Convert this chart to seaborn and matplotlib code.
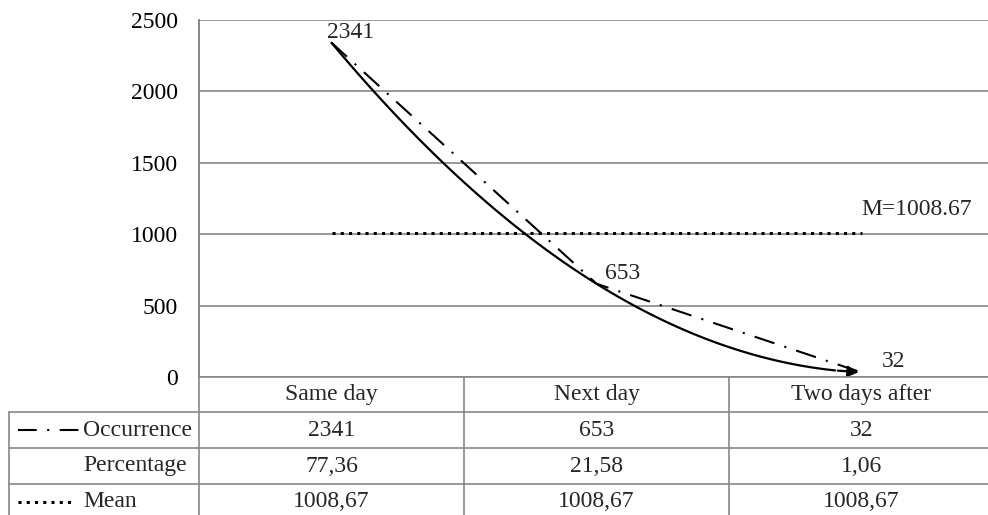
import matplotlib
matplotlib.use("Agg")
import matplotlib.pyplot as plt
from matplotlib.lines import Line2D
import matplotlib.transforms as mtransforms
import numpy as np
import seaborn as sns

# data
categories = ["Same day", "Next day", "Two days after"]
occurrence = [2341, 653, 32]
percentage = [77.36, 21.58, 1.06]
mean_value = 1008.67
row_labels = ["Occurrence", "Percentage", "Mean"]

# figure geometry (pixels)
W, H = 988, 515
left, top, zero_y, col_w = 199, 20, 377, 265
row_edges = [377, 412, 448, 484, 515]
grey = "#878787"
fs = 17
dashdot = (0, (10, 5, 1, 5))
dotted = (0, (1, 1.7))

sns.set_theme(style="white")
plt.rcParams["font.family"] = ["Liberation Serif", "DejaVu Serif"]

fig = plt.figure(figsize=(W / 100, H / 100), dpi=100)
ax = fig.add_axes([left / W, 1 - zero_y / H, 3 * col_w / W, (zero_y - top) / H])

xpos = np.arange(len(categories))

# lines
sns.lineplot(x=xpos, y=occurrence, ax=ax, color="black", lw=1.5, linestyle=dashdot)
sns.lineplot(x=xpos, y=[mean_value] * len(xpos), ax=ax, color="black", lw=2.2,
             linestyle=dotted)

# smooth trend curve with arrow
coef = np.polyfit(xpos, occurrence, 2)
xs = np.linspace(0, 1.9, 120)
ax.plot(xs, np.polyval(coef, xs), color="black", lw=1.6)
ax.annotate("", xy=(2, occurrence[-1]), xytext=(1.9, np.polyval(coef, 1.9)),
            arrowprops=dict(arrowstyle="-|>", color="black", lw=1.6, mutation_scale=16))

# labels
ax.annotate(str(occurrence[0]), (0, occurrence[0]), xytext=(-3, 0), textcoords="offset points",
            ha="left", va="bottom", fontsize=fs)
ax.annotate(str(occurrence[1]), (1, occurrence[1]), xytext=(6, 0), textcoords="offset points",
            ha="left", va="bottom", fontsize=fs)
ax.annotate(str(occurrence[2]), (2, occurrence[2]), xytext=(15, 0), textcoords="offset points",
            ha="left", va="bottom", fontsize=fs)
ax.annotate(f"M={mean_value:.2f}", (2, mean_value), xytext=(0, 9), textcoords="offset points",
            ha="left", va="bottom", fontsize=fs)

# axes styling
ax.set_xlim(-0.5, 2.5)
ax.set_ylim(0, 2500)
ax.set_yticks(np.arange(0, 2501, 500))
ax.set_xticks([])
ax.grid(axis="y", color=grey, lw=1.2)
ax.set_axisbelow(True)
for s in ["right", "bottom", "top"]:
    ax.spines[s].set_visible(False)
ax.spines["left"].set_color(grey)
ax.spines["left"].set_linewidth(1.2)
ax.tick_params(axis="y", length=0, pad=15, labelsize=fs, labelcolor="black")
ax.tick_params(axis="x", length=0)


# data table below the plot
def fx(x):
    return x / W


def fy(y):
    return 1 - y / H


def hline(y, x0, x1):
    fig.add_artist(Line2D([fx(x0), fx(x1)], [fy(y), fy(y)], color=grey, lw=1.2))


def vline(x, y0, y1):
    fig.add_artist(Line2D([fx(x), fx(x)], [fy(y0), fy(y1)], color=grey, lw=1.2))


hline(row_edges[0], left, W)
for y in row_edges[1:4]:
    hline(y, 9, W)
vline(9, row_edges[1], H)
vline(left, top, H)
for i in range(1, 3):
    vline(left + i * col_w, row_edges[0], H)

trans = mtransforms.blended_transform_factory(ax.transData, fig.transFigure)
centers = [(row_edges[i] + row_edges[i + 1]) / 2 for i in range(4)]
centers[3] += 2
for i, c in enumerate(categories):
    ax.text(i, fy(centers[0]), c, transform=trans, ha="center", va="center", fontsize=fs)
cell_rows = [[str(v) for v in occurrence],
             [f"{v:.2f}".replace(".", ",") for v in percentage],
             [f"{mean_value:.2f}".replace(".", ",")] * 3]
for r, vals in enumerate(cell_rows):
    yc = fy(centers[r + 1])
    for i, v in enumerate(vals):
        ax.text(i, yc, v, transform=trans, ha="center", va="center", fontsize=fs)
    fig.text(fx(83), yc, row_labels[r], ha="left", va="center", fontsize=fs)

# legend keys in the table
fig.add_artist(Line2D([fx(18), fx(79)], [fy(centers[1])] * 2, color="black", lw=1.5,
                      linestyle=(0, (9, 5, 1, 5))))
fig.add_artist(Line2D([fx(18), fx(72)], [fy(centers[3])] * 2, color="black", lw=2.2,
                      linestyle=dotted))

fig.savefig("out.png", dpi=100)
